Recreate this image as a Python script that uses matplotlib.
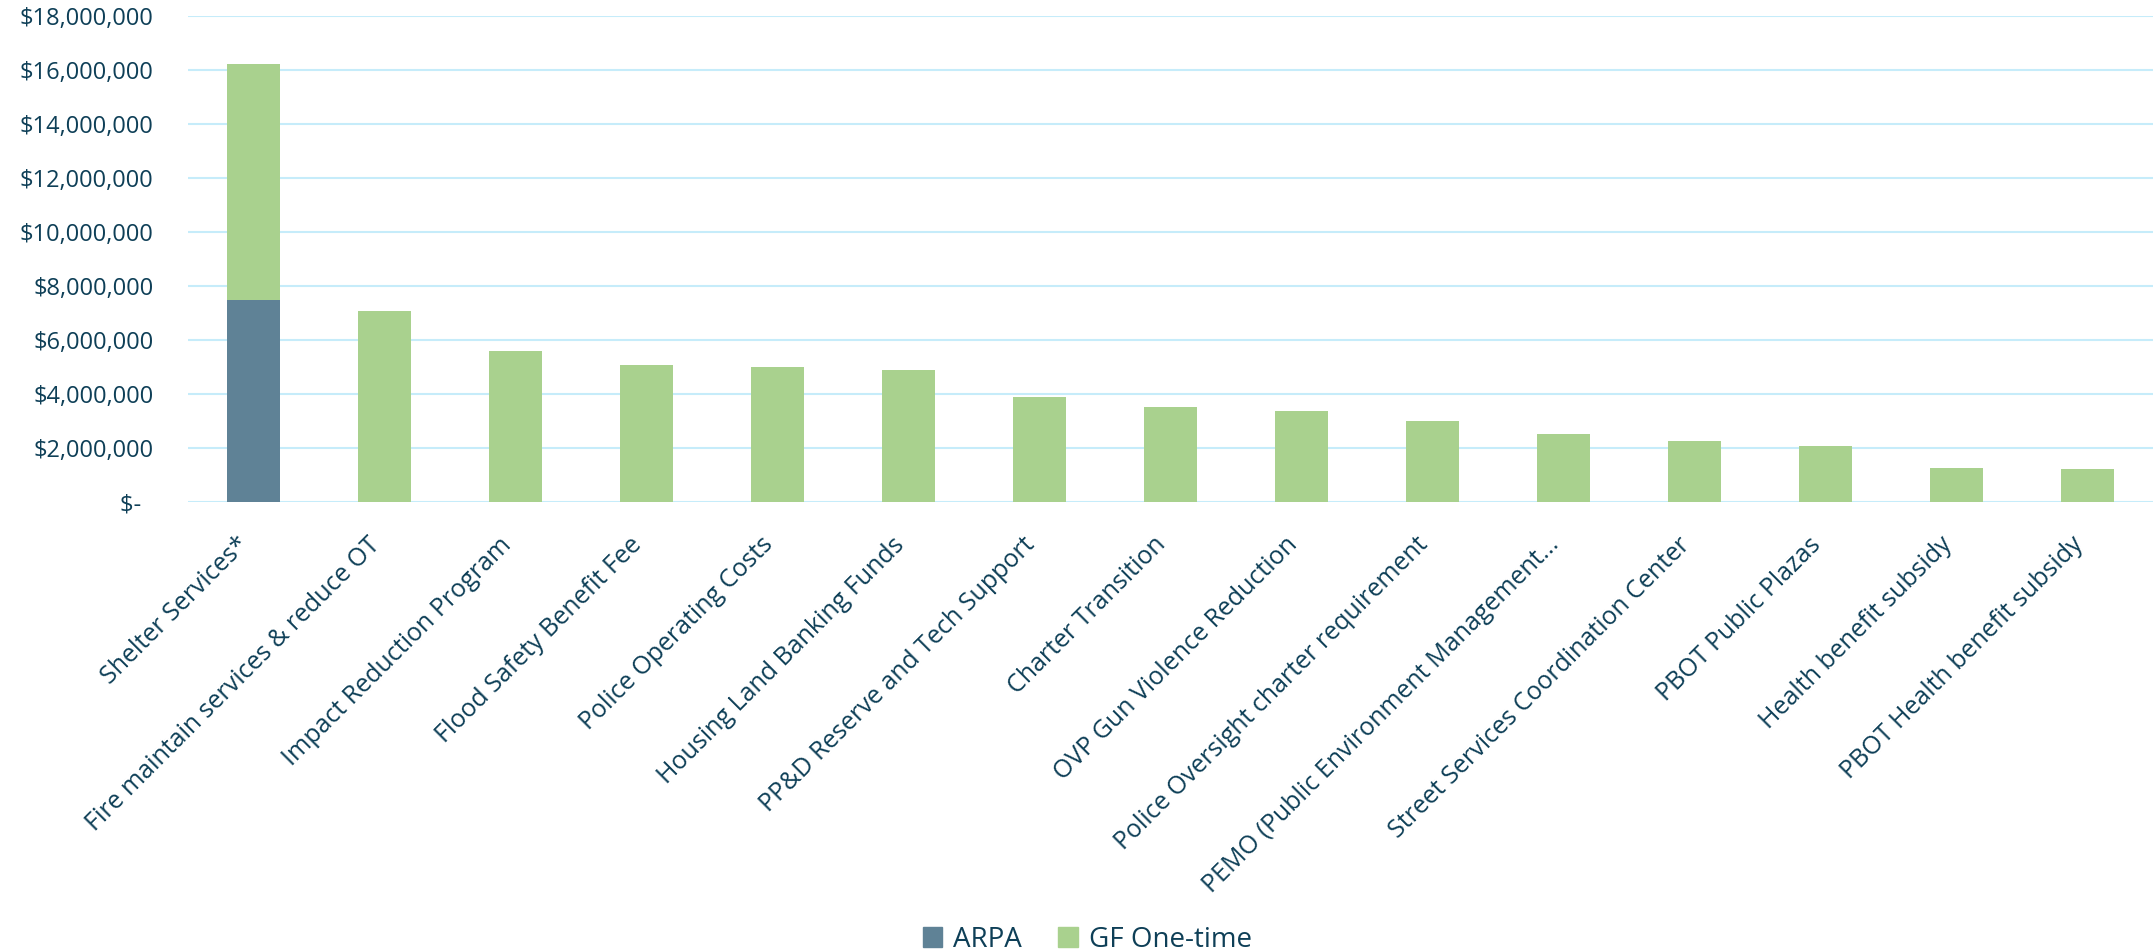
import matplotlib
matplotlib.use("Agg")
import matplotlib.pyplot as plt
import matplotlib.transforms as mtransforms
from matplotlib.ticker import FuncFormatter
from matplotlib.patches import Patch

# ---------- data ----------
categories = [
    "Shelter Services*",
    "Fire maintain services & reduce OT",
    "Impact Reduction Program",
    "Flood Safety Benefit Fee",
    "Police Operating Costs",
    "Housing Land Banking Funds",
    "PP&D Reserve and Tech Support",
    "Charter Transition",
    "OVP Gun Violence Reduction",
    "Police Oversight charter requirement",
    "PEMO (Public Environment Management...",
    "Street Services Coordination Center",
    "PBOT Public Plazas",
    "Health benefit subsidy",
    "PBOT Health benefit subsidy",
]
arpa = [7_500_000, 0, 0, 0, 0, 0, 0, 0, 0, 0, 0, 0, 0, 0, 0]
gf_one_time = [8_720_000, 7_080_000, 5_600_000, 5_090_000, 4_990_000,
               4_910_000, 3_880_000, 3_540_000, 3_360_000, 2_990_000,
               2_510_000, 2_260_000, 2_100_000, 1_280_000, 1_250_000]
series_names = ["ARPA", "GF One-time"]
y_ticks = list(range(0, 18_000_001, 2_000_000))

ARPA_COLOR = "#5F8296"
GF_COLOR = "#A9D18E"
GRID_COLOR = "#C6ECFA"
TEXT_COLOR = "#0E3F57"

plt.rcParams["font.family"] = ["Open Sans", "DejaVu Sans"]

fig = plt.figure(figsize=(21.53, 9.52), dpi=100)
ax = fig.add_axes([188 / 2153, 1 - 502.3 / 952, 1 - 188 / 2153, (502.3 - 15.7) / 952])

x = list(range(len(categories)))
ax.bar(x, arpa, width=0.4, color=ARPA_COLOR, zorder=3)
ax.bar(x, gf_one_time, width=0.4, bottom=arpa, color=GF_COLOR, zorder=3)

ax.set_xlim(-0.5, len(categories) - 0.5)
ax.set_ylim(0, 18_000_000)
ax.set_yticks(y_ticks)


def money(v, _pos):
    # accounting style: zero shows as a dash, padded like the currency cells
    return "$-  " if v == 0 else f"${v:,.0f}"


ax.yaxis.set_major_formatter(FuncFormatter(money))
ax.grid(axis="y", color=GRID_COLOR, linewidth=1.5, zorder=0)
ax.set_axisbelow(True)
for s in ax.spines.values():
    s.set_visible(False)

ax.tick_params(axis="y", length=0, pad=25, labelsize=17, labelcolor=TEXT_COLOR)
ax.tick_params(axis="x", length=0, pad=28, labelsize=18, labelcolor=TEXT_COLOR)
ax.set_xticks(x)
ax.set_xticklabels(categories, rotation=45, ha="right", va="center",
                   rotation_mode="anchor")

# nudge rotated labels so their ends sit under the bar centres
shift = mtransforms.ScaledTranslation(-8 / 100, 0, fig.dpi_scale_trans)
for lbl in ax.get_xticklabels():
    lbl.set_transform(lbl.get_transform() + shift)

handles = [Patch(color=ARPA_COLOR), Patch(color=GF_COLOR)]
fig.legend(handles, series_names, loc="lower center", ncol=2, frameon=False,
           fontsize=20, labelcolor=TEXT_COLOR, bbox_to_anchor=(0.505, -0.028),
           handlelength=0.7, handleheight=0.7, handletextpad=0.4,
           columnspacing=1.3)

fig.savefig("out.png", dpi=100)
